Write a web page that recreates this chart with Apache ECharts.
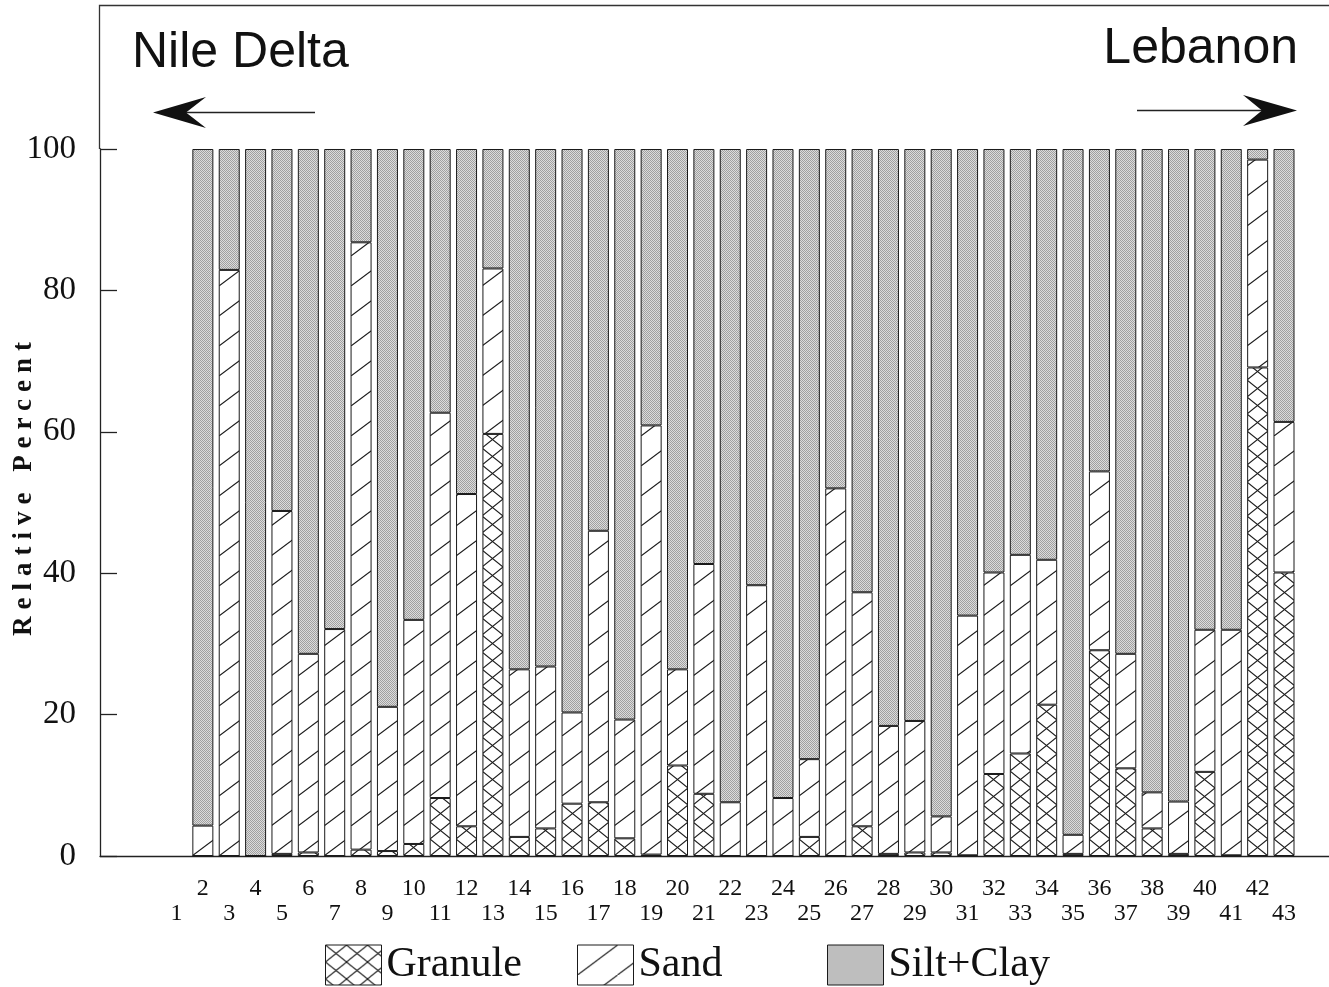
<!DOCTYPE html>
<html><head><meta charset="utf-8">
<script src="https://cdn.jsdelivr.net/npm/echarts@6/dist/echarts.min.js"></script>
<style>html,body{margin:0;padding:0;background:#fff}#c{width:1329px;height:987px}</style>
</head><body><div id="c"></div>
<script>
// ---- data (relative percent per station) ----
const stations = ['1','2','3','4','5','6','7','8','9','10','11','12','13','14','15','16','17','18','19','20','21','22','23','24','25','26','27','28','29','30','31','32','33','34','35','36','37','38','39','40','41','42','43'];
const granule  = [null,0,0,0,0.3,0.5,0,0.9,0.7,1.7,8.2,4.2,59.7,2.7,3.9,7.4,7.6,2.5,0.2,12.8,8.8,0,0,0,2.7,0,4.2,0.3,0.5,0.5,0.1,11.6,14.5,21.4,0.3,29.1,12.4,3.9,0.3,11.9,0.1,69.1,40.1];
const sand     = [null,4.3,82.9,0,48.5,28.1,32.1,85.9,20.4,31.7,54.5,47.0,23.4,23.7,22.9,12.9,38.4,16.8,60.7,13.6,32.5,7.6,38.3,8.2,11.0,52.0,33.1,18.1,18.6,5.1,33.9,28.5,28.1,20.5,2.7,25.3,16.2,5.1,7.4,20.1,31.9,29.4,21.3];
const siltClay = [null,95.7,17.1,100,51.2,71.4,67.9,13.2,78.9,66.6,37.3,48.8,16.9,73.6,73.2,79.7,54.0,80.7,39.1,73.6,58.7,92.4,61.7,91.8,86.3,48.0,62.7,81.6,80.9,94.4,66.0,59.9,57.4,58.1,97.0,45.6,71.4,91.0,92.3,68.0,68.0,1.5,38.6];
const seriesNames = ['Granule','Sand','Silt+Clay'];
const yAxisTitle = 'Relative Percent';

// spaced lettering for the rotated axis title only (the original is letter-spaced)
(function () {
  const proto = CanvasRenderingContext2D.prototype;
  const orig = proto.fillText;
  proto.fillText = function (t, x, y, m) {
    if (t === yAxisTitle && 'letterSpacing' in this) {
      this.save();
      this.letterSpacing = '7px';
      const r = orig.call(this, t, x, y);
      this.restore();
      return r;
    }
    return orig.apply(this, arguments);
  };
})();

// ---- layout ----
const W = 1329, GL = 163.3, GR = 31.8, GT = 149, GB = 131, BAR_W = 21;
const band = (W - GL - GR) / stations.length;
const baseY = 987 - GB;
const barLeft = i => Math.round(GL + (i + 0.5) * band - BAR_W / 2);

function tile(w, h, draw) {
  const c = document.createElement('canvas'); c.width = w; c.height = h;
  const g = c.getContext('2d'); draw(g, w, h); return c;
}
const sandTile = tile(40, 30, (g, w, h) => {
  g.fillStyle = '#fff'; g.fillRect(0, 0, w, h);
  g.strokeStyle = '#1a1a1a'; g.lineWidth = 1.1;
  g.beginPath(); g.moveTo(-w, 2 * h); g.lineTo(2 * w, -h); g.stroke();
});
const granuleTile = tile(21, 17, (g, w, h) => {
  g.fillStyle = '#fff'; g.fillRect(0, 0, w, h);
  g.strokeStyle = '#1a1a1a'; g.lineWidth = 1.1;
  g.beginPath(); g.moveTo(-w, -h); g.lineTo(2 * w, 2 * h); g.stroke();
  g.beginPath(); g.moveTo(-w, 2 * h); g.lineTo(2 * w, -h); g.stroke();
});
const stippleTile = tile(2, 2, (g) => {
  g.fillStyle = '#dcdcdc'; g.fillRect(0, 0, 2, 2);
  g.fillStyle = '#a0a0a0'; g.fillRect(0, 0, 1, 1); g.fillRect(1, 1, 1, 1);
});
const tiles = [granuleTile, sandTile, stippleTile];
const values = [granule, sand, siltClay];

const border = { borderColor: '#1a1a1a', borderWidth: 1 };
const series = seriesNames.map((name, k) => ({
  name, type: 'bar', stack: 'total', barWidth: BAR_W,
  xAxisIndex: 0, yAxisIndex: 0,
  itemStyle: Object.assign({ color: { image: tiles[k], repeat: 'repeat' } }, border),
  emphasis: { disabled: true },
  data: values[k].map((v, i) => k === 2 ? v : ({
    value: v,
    itemStyle: { color: { image: tiles[k], repeat: 'repeat', x: barLeft(i), y: baseY } }
  }))
}));

const serif = 'Liberation Serif, Times New Roman, serif';
const sans = 'Liberation Sans, Arial, sans-serif';
const legendBase = {
  itemWidth: 56, itemHeight: 40, top: 939, selectedMode: false, icon: 'rect',
  textStyle: { fontFamily: serif, fontSize: 42, color: '#111' },
  itemStyle: border
};

const chart = echarts.init(document.getElementById('c'), null, { renderer: 'canvas' });
chart.setOption({
  animation: false,
  backgroundColor: '#fff',
  title: [
    { text: 'Nile Delta', left: 132, top: 28, padding: 0, textStyle: { fontFamily: sans, fontSize: 50, fontWeight: 'normal', color: '#111' } },
    { text: 'Lebanon', right: 31, top: 24, padding: 0, textStyle: { fontFamily: sans, fontSize: 50, fontWeight: 'normal', color: '#111' } }
  ],
  legend: [
    Object.assign({ data: ['Granule'], left: 320 }, legendBase),
    Object.assign({ data: ['Sand'], left: 572 }, legendBase),
    Object.assign({ data: ['Silt+Clay'], left: 822 }, legendBase)
  ],
  grid: [
    { left: GL, right: GR, top: GT, bottom: GB, outerBoundsMode: 'none' },
    { left: 100, right: 0, top: GT, bottom: GB, outerBoundsMode: 'none' }
  ],
  xAxis: [
    { type: 'category', gridIndex: 0, data: stations, boundaryGap: true,
      axisLine: { show: false }, axisTick: { show: false },
      axisLabel: { interval: 0, fontFamily: serif, fontSize: 24, color: '#111', lineHeight: 25, margin: 20,
        formatter: (v) => (Number(v) % 2 === 0 ? v + '\n ' : ' \n' + v) } },
    { type: 'value', gridIndex: 1, min: 0, max: 1,
      axisLine: { show: true, lineStyle: { color: '#222', width: 1.3 } },
      axisTick: { show: false }, axisLabel: { show: false }, splitLine: { show: false } }
  ],
  yAxis: [
    { type: 'value', gridIndex: 0, min: 0, max: 100, show: false },
    { type: 'value', gridIndex: 1, min: 0, max: 100, interval: 20,
      axisLine: { show: true, lineStyle: { color: '#222', width: 1.3 } },
      axisTick: { show: true, inside: true, length: 17, lineStyle: { color: '#222', width: 1.3 } },
      axisLabel: { fontFamily: serif, fontSize: 33, color: '#111', margin: 24 },
      splitLine: { show: false },
      name: yAxisTitle, nameLocation: 'middle', nameRotate: 90, nameGap: 62, nameMoveOverlap: false,
      nameTextStyle: { fontFamily: serif, fontSize: 27, fontWeight: 'bold', color: '#111', padding: [0, 0, 0, 34] } }
  ],
  graphic: [
    { type: 'polyline', shape: { points: [[1329, 5.5], [99.5, 5.5], [99.5, GT]] }, style: { stroke: '#333', lineWidth: 1.3, fill: null } },
    { type: 'line', shape: { x1: 186, y1: 112.5, x2: 315, y2: 112.5 }, style: { stroke: '#222', lineWidth: 1.4 } },
    { type: 'polygon', shape: { points: [[153, 112.5], [206, 97], [186, 112.5], [206, 128]] }, style: { fill: '#111' } },
    { type: 'line', shape: { x1: 1137, y1: 110.5, x2: 1262, y2: 110.5 }, style: { stroke: '#222', lineWidth: 1.4 } },
    { type: 'polygon', shape: { points: [[1297, 110.5], [1243, 95], [1262, 110.5], [1243, 126]] }, style: { fill: '#111' } }
  ],
  series
});
</script></body></html>
